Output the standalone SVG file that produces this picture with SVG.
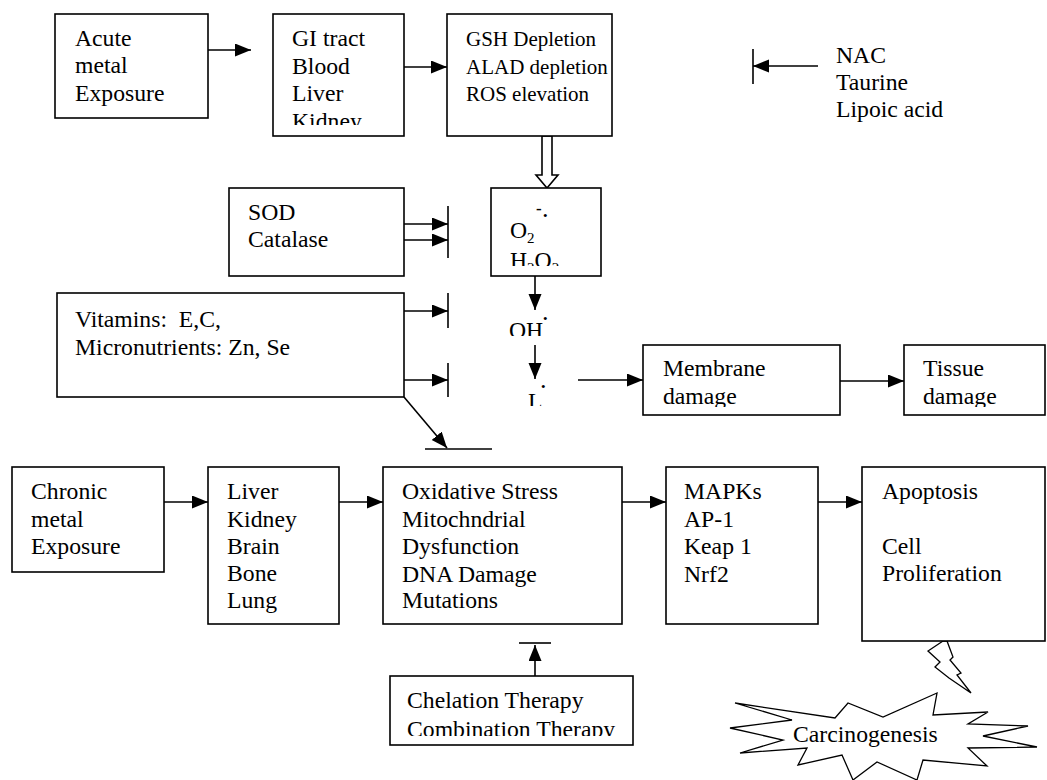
<svg xmlns="http://www.w3.org/2000/svg" width="1047" height="780" viewBox="0 0 1047 780" font-family="'Liberation Serif', 'DejaVu Serif', 'Times New Roman', Times, serif">
<style>
.box{fill:#fff;stroke:#000;stroke-width:1.6}
.t{font-family:'Liberation Serif','DejaVu Serif','Times New Roman',Times,serif;font-size:23.7px;fill:#000}
.sm{font-size:21px}
.ln{stroke:#000;stroke-width:1.6;fill:none}
.ar{stroke:#000;stroke-width:1.6;fill:none;marker-end:url(#ah)}
.sub{font-size:15px}
.dash{font-size:17px;font-weight:bold}
.dot{font-size:13px}
</style>
<defs>
<marker id="ah" markerUnits="userSpaceOnUse" markerWidth="17" markerHeight="14" refX="16" refY="6.5" orient="auto">
<path d="M0,0 L16,6.5 L0,13 z" fill="#000"/>
</marker>
<clipPath id="cGI"><rect x="273" y="14" width="131" height="111"/></clipPath>
<clipPath id="cO2"><rect x="491" y="188" width="110" height="78"/></clipPath>
<clipPath id="cOH"><rect x="490" y="300" width="80" height="36"/></clipPath>
<clipPath id="cL"><rect x="510" y="380" width="60" height="26"/></clipPath>
<clipPath id="cMem"><rect x="643" y="345" width="197" height="62"/></clipPath>
<clipPath id="cTis"><rect x="904" y="345" width="143" height="62"/></clipPath>
<clipPath id="cChel"><rect x="390" y="676" width="243" height="60"/></clipPath>
</defs>

<g id="connectors">
<line class="ar" x1="208" y1="50" x2="251" y2="50"/>
<line class="ar" x1="404" y1="67" x2="447" y2="67"/>
<line class="ar" x1="818" y1="66" x2="753" y2="66"/>
<line class="ln" x1="753" y1="49" x2="753" y2="84"/>
<polygon points="542,136 552,136 552,175 558,175 547,188 536,175 542,175" fill="#fff" stroke="#000" stroke-width="1.6"/>
<line class="ar" x1="404" y1="224" x2="448" y2="224"/>
<line class="ar" x1="404" y1="240" x2="448" y2="240"/>
<line class="ln" x1="448" y1="206" x2="448" y2="258"/>
<line class="ar" x1="404" y1="311" x2="448" y2="311"/>
<line class="ln" x1="448" y1="293" x2="448" y2="328"/>
<line class="ar" x1="404" y1="380" x2="448" y2="380"/>
<line class="ln" x1="448" y1="363" x2="448" y2="397"/>
<line class="ar" x1="404" y1="397" x2="447" y2="448"/>
<line class="ln" x1="425" y1="449" x2="492" y2="449"/>
<line class="ar" x1="535" y1="276" x2="535" y2="310"/>
<line class="ar" x1="535" y1="345" x2="535" y2="379"/>
<line class="ar" x1="578" y1="380" x2="643" y2="380"/>
<line class="ar" x1="840" y1="381" x2="904" y2="381"/>
<line class="ar" x1="164" y1="502" x2="208" y2="502"/>
<line class="ar" x1="339" y1="502" x2="383" y2="502"/>
<line class="ar" x1="622" y1="502" x2="666" y2="502"/>
<line class="ar" x1="818" y1="502" x2="862" y2="502"/>
<line class="ar" x1="797" y1="572" x2="797" y2="487"/>
<line class="ar" x1="535" y1="676" x2="535" y2="645"/>
<line class="ln" x1="519" y1="643" x2="551" y2="643"/>
<polygon points="943,641 928,651 940,662 935,667 949,678 971,693 957,675 961,673 950,660 953,657 947,641" fill="#fff" stroke="#000" stroke-width="1.3"/>
</g>

<g id="acute">
<rect class="box" x="55" y="14" width="153" height="104"/>
<text class="t" x="75" y="46">Acute</text>
<text class="t" x="75" y="73">metal</text>
<text class="t" x="75" y="101">Exposure</text>
</g>

<g id="organs-acute">
<rect class="box" x="273" y="14" width="131" height="122"/>
<g clip-path="url(#cGI)">
<text class="t" x="292" y="46">GI tract</text>
<text class="t" x="292" y="74">Blood</text>
<text class="t" x="292" y="101">Liver</text>
<text class="t" x="292" y="129">Kidney</text>
</g>
</g>

<g id="gsh">
<rect class="box" x="447" y="14" width="165" height="122"/>
<text class="t sm" x="466" y="46">GSH Depletion</text>
<text class="t sm" x="466" y="74">ALAD depletion</text>
<text class="t sm" x="466" y="101">ROS elevation</text>
</g>

<g id="nac">
<text class="t" x="836" y="63">NAC</text>
<text class="t" x="836" y="90">Taurine</text>
<text class="t" x="836" y="117">Lipoic acid</text>
</g>

<g id="sod">
<rect class="box" x="229" y="188" width="175" height="88"/>
<text class="t" x="248" y="220">SOD</text>
<text class="t" x="248" y="247">Catalase</text>
</g>

<g id="ros">
<rect class="box" x="491" y="188" width="110" height="88"/>
<g clip-path="url(#cO2)">
<text class="t" x="510" y="238">O<tspan class="sub" dy="5">2</tspan></text>
<text class="t dash" x="536" y="214">-</text>
<text class="t dot" x="543" y="220">•</text>
<text class="t" x="510" y="268">H<tspan class="sub" dy="5">2</tspan><tspan dy="-5">O</tspan><tspan class="sub" dy="5">2</tspan></text>
</g>
</g>

<g id="vitamins">
<rect class="box" x="57" y="293" width="347" height="104"/>
<text class="t" x="75" y="327" style="white-space:pre">Vitamins:  E,C,</text>
<text class="t" x="75" y="355">Micronutrients: Zn, Se</text>
</g>

<g id="oh">
<text class="t" x="509" y="338" clip-path="url(#cOH)">OH</text>
<text class="t dot" x="543" y="323">•</text>
</g>

<g id="l">
<text class="t" x="528" y="409" clip-path="url(#cL)">L</text>
<text class="t dot" x="541" y="391">•</text>
</g>

<g id="membrane">
<rect class="box" x="643" y="345" width="197" height="70"/>
<g clip-path="url(#cMem)">
<text class="t" x="663" y="376">Membrane</text>
<text class="t" x="663" y="404">damage</text>
</g>
</g>

<g id="tissue">
<rect class="box" x="904" y="345" width="141" height="70"/>
<g clip-path="url(#cTis)">
<text class="t" x="923" y="376">Tissue</text>
<text class="t" x="923" y="404">damage</text>
</g>
</g>

<g id="chronic">
<rect class="box" x="12" y="467" width="152" height="105"/>
<text class="t" x="31" y="499">Chronic</text>
<text class="t" x="31" y="527">metal</text>
<text class="t" x="31" y="554">Exposure</text>
</g>

<g id="organs-chronic">
<rect class="box" x="208" y="467" width="131" height="157"/>
<text class="t" x="227" y="499">Liver</text>
<text class="t" x="227" y="527">Kidney</text>
<text class="t" x="227" y="554">Brain</text>
<text class="t" x="227" y="581">Bone</text>
<text class="t" x="227" y="608">Lung</text>
</g>

<g id="oxidative">
<rect class="box" x="383" y="467" width="239" height="157"/>
<text class="t" x="402" y="499">Oxidative Stress</text>
<text class="t" x="402" y="527">Mitochndrial</text>
<text class="t" x="402" y="554">Dysfunction</text>
<text class="t" x="402" y="582">DNA Damage</text>
<text class="t" x="402" y="608">Mutations</text>
</g>

<g id="mapks">
<rect class="box" x="666" y="467" width="152" height="157"/>
<text class="t" x="684" y="499">MAPKs</text>
<text class="t" x="684" y="527">AP-1</text>
<text class="t" x="684" y="554">Keap 1</text>
<text class="t" x="684" y="582">Nrf2</text>
</g>

<g id="apoptosis">
<rect class="box" x="862" y="467" width="183" height="174"/>
<text class="t" x="882" y="499">Apoptosis</text>
<text class="t" x="882" y="554">Cell</text>
<text class="t" x="882" y="581">Proliferation</text>
</g>

<g id="chelation">
<rect class="box" x="390" y="676" width="243" height="69"/>
<g clip-path="url(#cChel)">
<text class="t" x="407" y="708">Chelation Therapy</text>
<text class="t" x="407" y="737">Combination Therapy</text>
</g>
</g>

<g id="carcinogenesis">
<polygon points="735,703 835,718 848,703 883,717 937,693 933,715 988,712 968,724 1028,726 983,736 1037,747 968,748 987,766 923,760 917,780 877,762 853,780 842,755 798,765 807,748 740,753 783,740 730,728 792,720" fill="#fff" stroke="#000" stroke-width="1.3"/>
<text class="t" x="793" y="742">Carcinogenesis</text>
</g>
</svg>
